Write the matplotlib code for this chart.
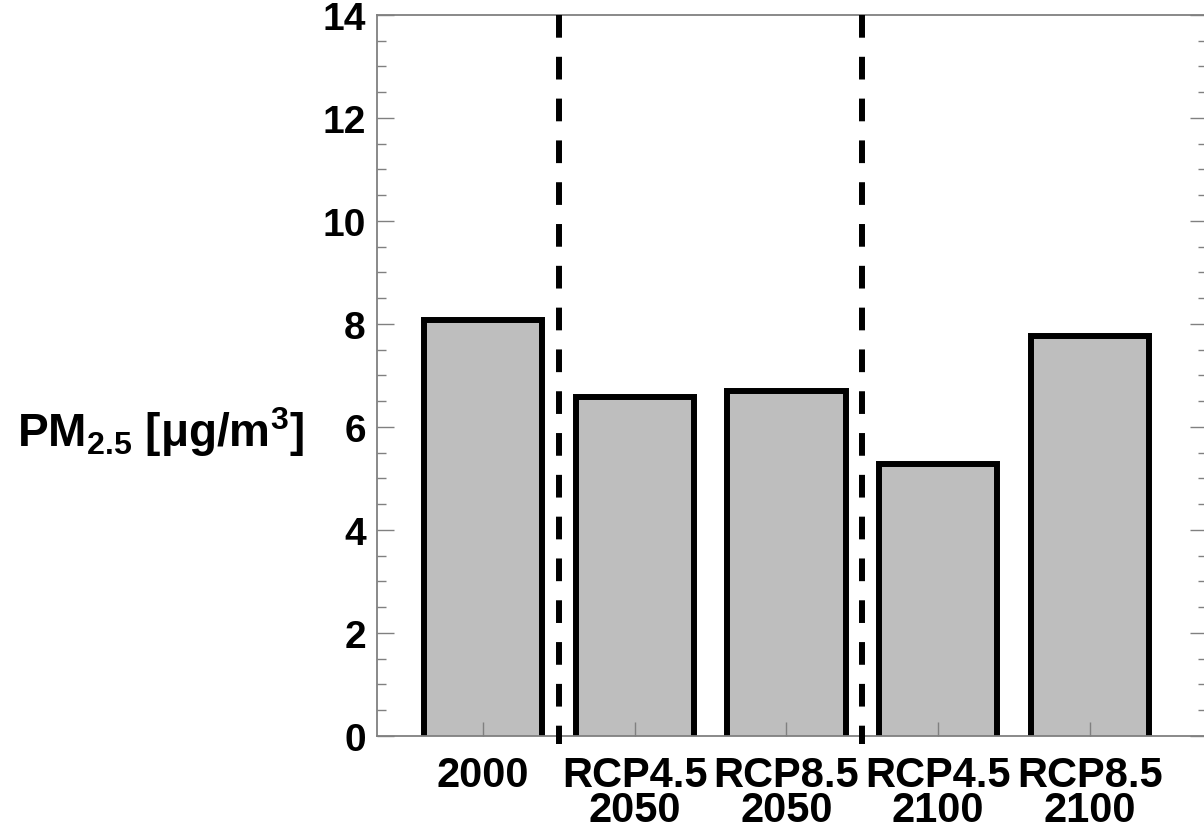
import numpy as np
import matplotlib
matplotlib.use("Agg")
import matplotlib.pyplot as plt
from matplotlib.ticker import MultipleLocator

plt.rcParams['font.family'] = ['Liberation Sans', 'DejaVu Sans']
plt.rcParams['font.weight'] = 'bold'
plt.rcParams['mathtext.fontset'] = 'custom'
plt.rcParams['mathtext.rm'] = 'Liberation Sans:bold'
plt.rcParams['mathtext.it'] = 'Liberation Sans:bold'
plt.rcParams['mathtext.bf'] = 'Liberation Sans:bold'

# data
scenarios = ['2000', 'RCP4.5\n2050', 'RCP8.5\n2050', 'RCP4.5\n2100', 'RCP8.5\n2100']
pm25 = [8.08, 6.58, 6.70, 5.28, 7.77]
separators = [1.5, 3.5]

fig = plt.figure(figsize=(12.04, 8.29), dpi=100)
ax = fig.add_axes([0.3131, 0.1110, 0.689, 0.8697])
ax.set_axisbelow(False)

pos = np.arange(1, len(scenarios) + 1)
base = -0.5  # start bars below the axis so the bottom edge is hidden
ax.bar(pos, np.array(pm25) - base, bottom=base, width=0.78,
       color='#bebebe', edgecolor='black', linewidth=4.3, zorder=2)

for xs in separators:
    ax.plot([xs, xs], [14, -0.155], color='black', linewidth=4.3,
            dashes=(3.8, 3.2), solid_capstyle='butt', dash_capstyle='butt',
            clip_on=False, zorder=3)

ax.set_xlim(0.3, 5.77)
ax.set_ylim(0, 14)
ax.set_xticks(pos)
ax.set_xticklabels(scenarios, fontsize=30, fontweight='bold', linespacing=0.84)
ax.yaxis.set_major_locator(MultipleLocator(2))
ax.yaxis.set_minor_locator(MultipleLocator(0.5))
for lab in ax.get_yticklabels():
    lab.set_fontsize(28)
    lab.set_fontweight('bold')

ax.tick_params(axis='x', direction='in', length=10, width=1, color='#808080',
               pad=14, top=False)
ax.tick_params(axis='y', which='major', direction='in', length=12, width=1,
               color='#808080', pad=8, right=True)
ax.tick_params(axis='y', which='minor', direction='in', length=6.5, width=1,
               color='#808080', right=True)
for sp in ax.spines.values():
    sp.set_color('#808080')
    sp.set_linewidth(1.3)

fig.text(160 / 1204, 1 - 432 / 829, r'PM$_{2.5}$ [$\mu$g/m$^3$]',
         fontsize=33, fontweight='bold', ha='center', va='center')

fig.savefig('out.png', dpi=100)
